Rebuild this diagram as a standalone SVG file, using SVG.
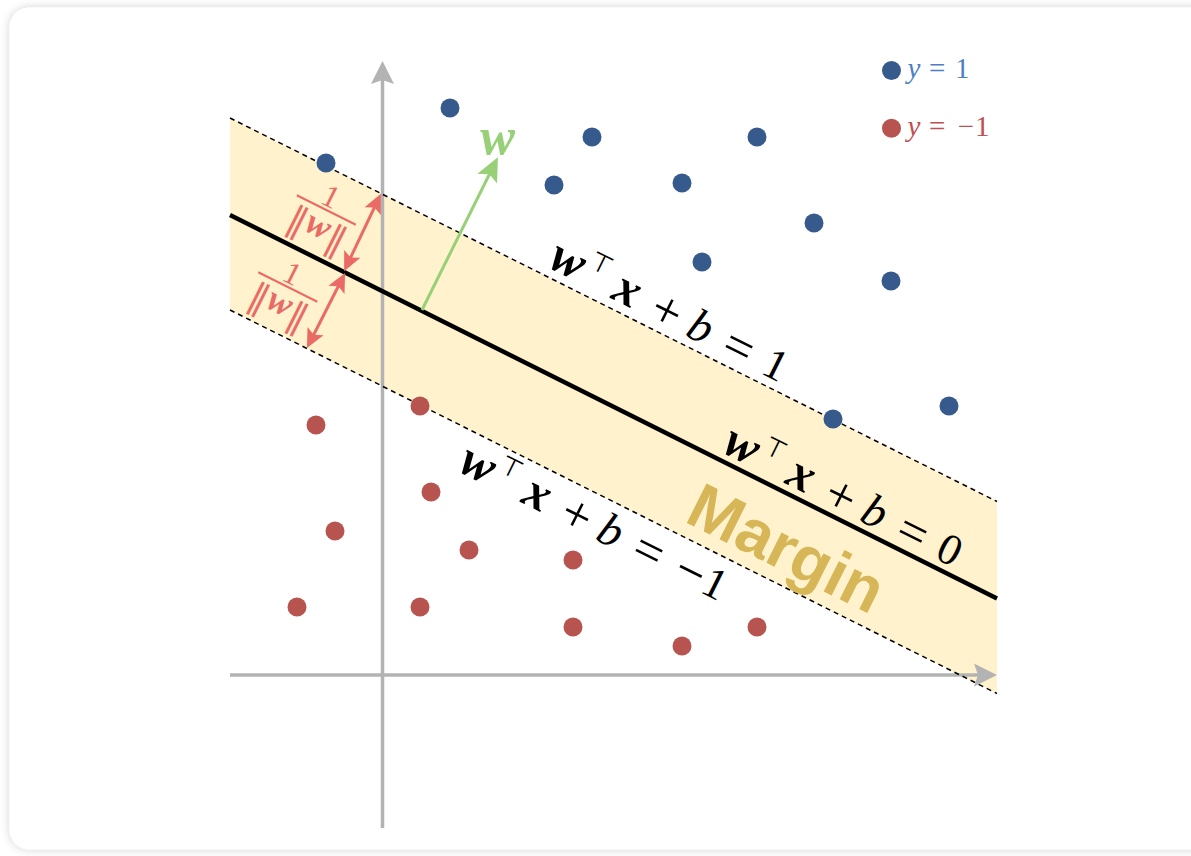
<svg xmlns="http://www.w3.org/2000/svg" width="1191" height="856" viewBox="0 0 1191 856">
<style>
.m{font-family:"Liberation Serif","DejaVu Serif",serif;font-size:44px;fill:#000;text-anchor:middle}
.op{font-size:52px}
.bi{font-weight:bold;font-style:italic;font-size:50px}
.it{font-style:italic;font-size:46px}
.tp{font-family:"DejaVu Sans",sans-serif;font-size:26px}
.bdot{fill:#365a8c}
.rdot{fill:#b85450}
.dash{stroke:#000;stroke-width:1.5;stroke-dasharray:5 4;fill:none}
.axis{stroke:#b3b3b3;stroke-width:3.5;fill:none;marker-end:url(#axHead)}
.red{stroke:#ea6b66;stroke-width:3;fill:none;marker-start:url(#rHead);marker-end:url(#rHead)}
.fr{font-family:"Liberation Serif","DejaVu Serif",serif;font-size:32px;fill:#ea6b66;text-anchor:middle}
.lg{font-family:"Liberation Serif","DejaVu Serif",serif;font-size:29px;text-anchor:middle}
</style>
<defs>
<filter id="sh" x="-5%" y="-5%" width="110%" height="110%">
<feDropShadow dx="0" dy="0" stdDeviation="5" flood-color="#000" flood-opacity="0.18"/>
</filter>
<marker id="axHead" markerUnits="userSpaceOnUse" viewBox="-14 -13 28 26" refX="0" refY="0" markerWidth="28" markerHeight="26" orient="auto" overflow="visible">
<path d="M12,0 L-11,-11.5 L-7,0 L-11,11.5 Z" fill="#b3b3b3"/>
</marker>
<marker id="gHead" markerUnits="userSpaceOnUse" viewBox="-16 -13 30 26" refX="0" refY="0" markerWidth="30" markerHeight="26" orient="auto" overflow="visible">
<path d="M11,0 L-13,-11 L-8,0 L-13,11 Z" fill="#97d077"/>
</marker>
<marker id="rHead" markerUnits="userSpaceOnUse" viewBox="-12 -10 24 20" refX="0" refY="0" markerWidth="24" markerHeight="20" orient="auto-start-reverse" overflow="visible">
<path d="M9,0 L-10,-9 L-6,0 L-10,9 Z" fill="#ea6b66"/>
</marker>
</defs>
<rect width="1191" height="856" fill="#ffffff"/>
<rect x="9.5" y="7.5" width="1230" height="842" rx="20" fill="#ffffff" filter="url(#sh)"/>

<g id="margin-band">
<polygon points="230,118 997,501.5 997,693.5 230,310" fill="#fff2cc"/>
</g>

<g id="connectors">
<line class="axis" x1="382.5" y1="828" x2="382.5" y2="73"/>
<line class="axis" x1="230" y1="675" x2="985" y2="675"/>
<line class="dash" x1="230" y1="118" x2="997" y2="501.5"/>
<line class="dash" x1="230" y1="310" x2="997" y2="693.5"/>
<line x1="230" y1="215" x2="997" y2="598.5" stroke="#000" stroke-width="4.5"/>
<line x1="422" y1="310" x2="493" y2="167" stroke="#97d077" stroke-width="3" marker-end="url(#gHead)"/>
<line class="red" x1="377" y1="202" x2="348" y2="263"/>
<line class="red" x1="341" y1="281" x2="311" y2="340"/>
</g>

<g id="positive-points">
<g id="p1"><circle class="bdot" cx="450" cy="108" r="9.5"/></g>
<g id="p2"><circle class="bdot" cx="592" cy="137" r="9.5"/></g>
<g id="p3"><circle class="bdot" cx="757" cy="137" r="9.5"/></g>
<g id="p4"><circle class="bdot" cx="326" cy="163" r="9.5"/></g>
<g id="p5"><circle class="bdot" cx="554" cy="185" r="9.5"/></g>
<g id="p6"><circle class="bdot" cx="682" cy="183" r="9.5"/></g>
<g id="p7"><circle class="bdot" cx="814" cy="223" r="9.5"/></g>
<g id="p8"><circle class="bdot" cx="702" cy="262" r="9.5"/></g>
<g id="p9"><circle class="bdot" cx="891" cy="281" r="9.5"/></g>
<g id="p10"><circle class="bdot" cx="833" cy="419" r="9.5"/></g>
<g id="p11"><circle class="bdot" cx="949" cy="406" r="9.5"/></g>
</g>
<g id="negative-points">
<g id="n1"><circle class="rdot" cx="420" cy="406" r="9.5"/></g>
<g id="n2"><circle class="rdot" cx="316" cy="425" r="9.5"/></g>
<g id="n3"><circle class="rdot" cx="431" cy="492" r="9.5"/></g>
<g id="n4"><circle class="rdot" cx="335" cy="531" r="9.5"/></g>
<g id="n5"><circle class="rdot" cx="469" cy="550" r="9.5"/></g>
<g id="n6"><circle class="rdot" cx="573" cy="560" r="9.5"/></g>
<g id="n7"><circle class="rdot" cx="297" cy="607" r="9.5"/></g>
<g id="n8"><circle class="rdot" cx="420" cy="607" r="9.5"/></g>
<g id="n9"><circle class="rdot" cx="573" cy="627" r="9.5"/></g>
<g id="n10"><circle class="rdot" cx="682" cy="646" r="9.5"/></g>
<g id="n11"><circle class="rdot" cx="757" cy="627" r="9.5"/></g>
</g>

<g id="label-w">
<text x="497.5" y="154" font-family="Liberation Serif, DejaVu Serif, serif" font-size="52" font-weight="bold" font-style="italic" fill="#97d077" text-anchor="middle">w</text>
</g>

<g id="label-plus1" transform="translate(550,268) rotate(26.565)">
<text class="m"><tspan class="bi" x="12.8" y="0">w</tspan><tspan class="tp" x="44.1" y="-18">⊤</tspan><tspan class="bi" x="79.2" y="0">x</tspan><tspan class="op" x="123.9" y="3">+</tspan><tspan class="it" x="161.2" y="0">b</tspan><tspan class="op" x="204.4" y="3">=</tspan><tspan x="245.3" y="0">1</tspan></text>
</g>
<g id="label-zero" transform="translate(724,453) rotate(26.565)">
<text class="m"><tspan class="bi" x="12.8" y="0">w</tspan><tspan class="tp" x="44.1" y="-18">⊤</tspan><tspan class="bi" x="79.2" y="0">x</tspan><tspan class="op" x="123.9" y="3">+</tspan><tspan class="it" x="161.2" y="0">b</tspan><tspan class="op" x="204.4" y="3">=</tspan><tspan x="245.3" y="0">0</tspan></text>
</g>
<g id="label-minus1" transform="translate(460,472) rotate(26.565)">
<text class="m"><tspan class="bi" x="12.8" y="0">w</tspan><tspan class="tp" x="44.1" y="-18">⊤</tspan><tspan class="bi" x="79.2" y="0">x</tspan><tspan class="op" x="123.9" y="3">+</tspan><tspan class="it" x="161.2" y="0">b</tspan><tspan class="op" x="204.4" y="3">=</tspan><tspan class="op" x="251" y="3">−</tspan><tspan x="278" y="0">1</tspan></text>
</g>
<g id="label-margin" transform="translate(683,521) rotate(26.565)">
<text x="0" y="0" font-family="Liberation Sans, Arial, sans-serif" font-size="64" font-weight="bold" fill="#d6b656">Margin</text>
</g>

<g id="frac-upper" transform="translate(326.3,210) rotate(26.565)">
<line x1="-33" y1="0" x2="33" y2="0" stroke="#ea6b66" stroke-width="2"/>
<text class="fr" x="-1.8" y="-3.5">1</text>
<text class="fr"><tspan x="-21" y="34" font-family="DejaVu Sans, sans-serif" font-size="36">‖</tspan><tspan x="0" y="28" font-weight="bold" font-style="italic" font-size="36">w</tspan><tspan x="22" y="34" font-family="DejaVu Sans, sans-serif" font-size="36">‖</tspan></text>
</g>
<g id="frac-lower" transform="translate(287.8,287) rotate(26.565)">
<line x1="-33" y1="0" x2="33" y2="0" stroke="#ea6b66" stroke-width="2"/>
<text class="fr" x="-1.8" y="-3.5">1</text>
<text class="fr"><tspan x="-21" y="34" font-family="DejaVu Sans, sans-serif" font-size="36">‖</tspan><tspan x="0" y="28" font-weight="bold" font-style="italic" font-size="36">w</tspan><tspan x="22" y="34" font-family="DejaVu Sans, sans-serif" font-size="36">‖</tspan></text>
</g>

<g id="legend">
<g id="legend-pos">
<circle class="bdot" cx="891.5" cy="70.5" r="9.5"/>
<text class="lg" fill="#4d7fc4"><tspan x="914" y="78" font-style="italic">y</tspan><tspan x="937.3" y="78">=</tspan><tspan x="962.3" y="78">1</tspan></text>
</g>
<g id="legend-neg">
<circle class="rdot" cx="891.5" cy="128.3" r="9.5"/>
<text class="lg" fill="#bf504f"><tspan x="914" y="135.5" font-style="italic">y</tspan><tspan x="937.3" y="135.5">=</tspan><tspan x="966" y="135.5">−</tspan><tspan x="982.3" y="135.5">1</tspan></text>
</g>
</g>
</svg>
